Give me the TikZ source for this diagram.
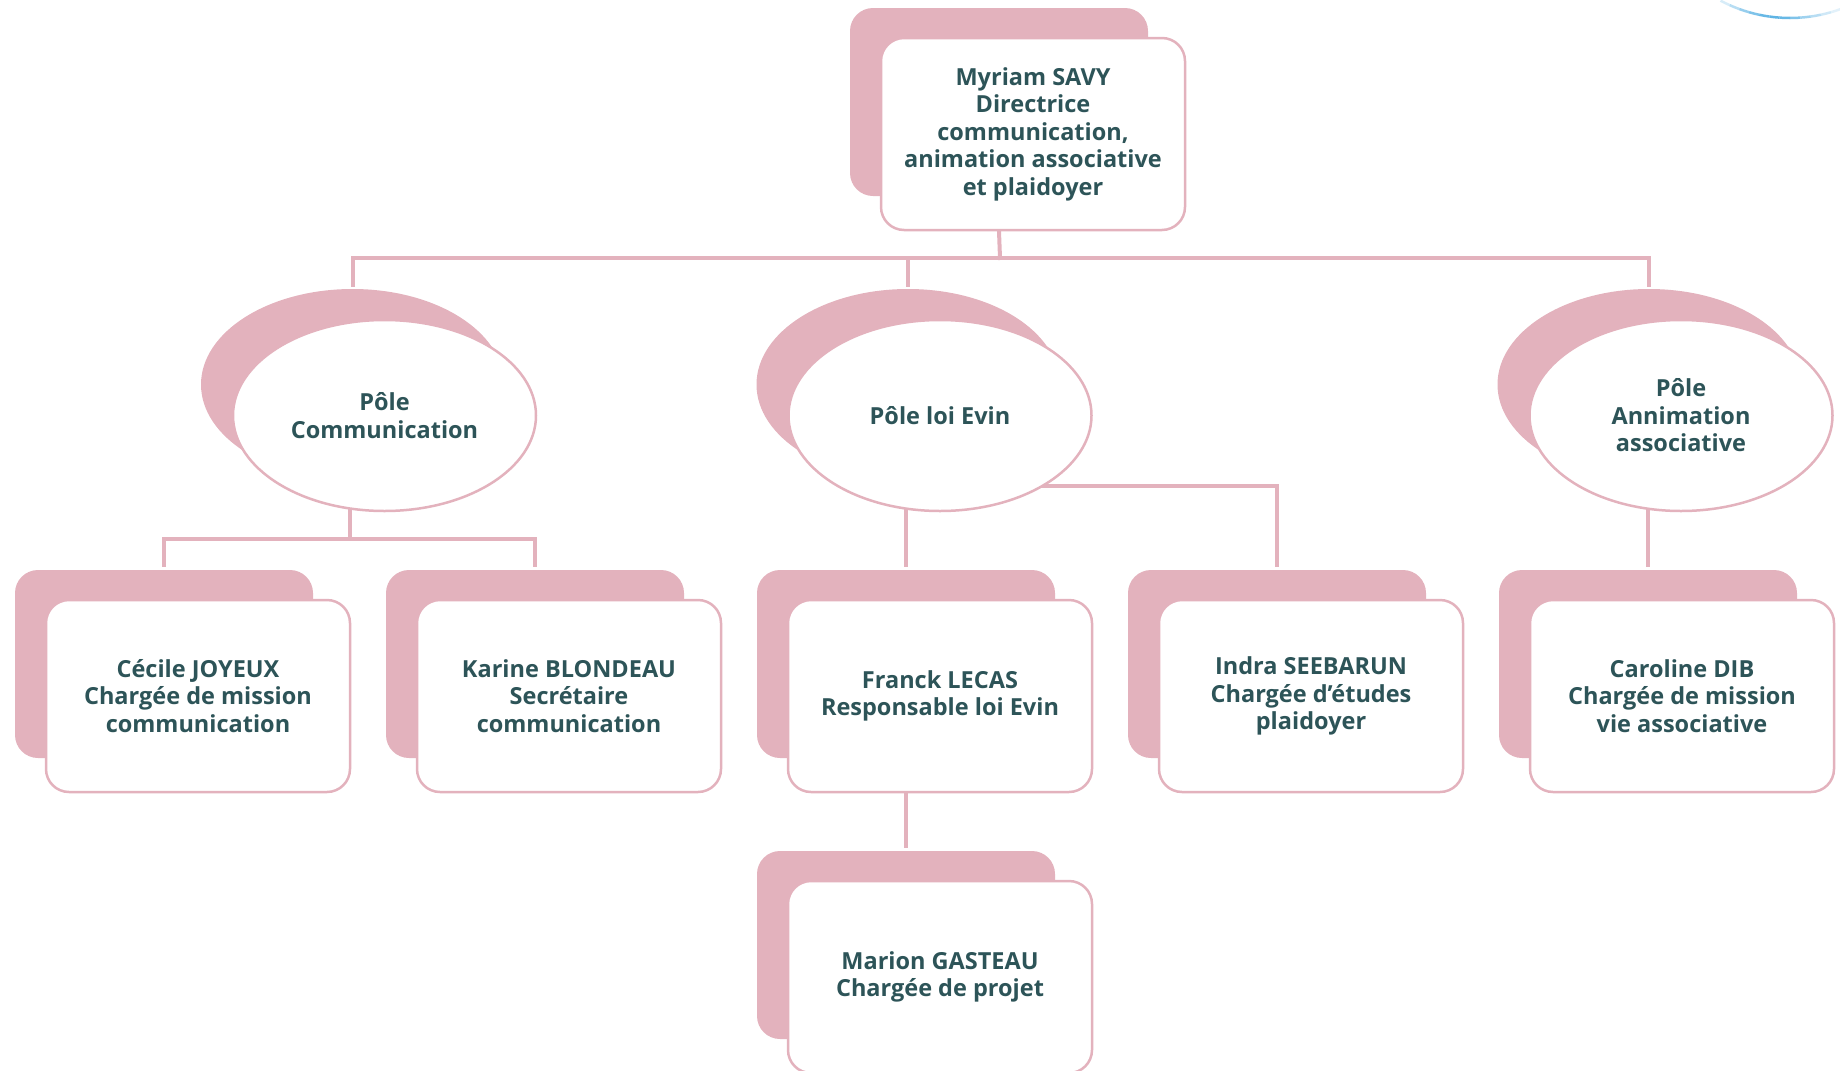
\documentclass[tikz,border=0pt]{standalone}
\usepackage{fontspec}
\setmainfont{Open Sans}
\usetikzlibrary{shapes.geometric,calc}
\pgfdeclarelayer{bg}
\pgfsetlayers{bg,main}
\definecolor{pinkfill}{RGB}{227,178,189}
\definecolor{tealtext}{RGB}{45,84,88}
\definecolor{arcblue}{RGB}{95,180,228}
\tikzset{
  backbox/.style={rectangle, rounded corners=23pt, fill=pinkfill, minimum width=298pt, minimum height=188pt, inner sep=0pt},
  frontbox/.style={rectangle, rounded corners=23pt, fill=white, draw=pinkfill, line width=2.5pt, minimum width=304pt, minimum height=192pt, inner sep=0pt, align=center, text=tealtext, font=\fontsize{23.5}{27.5}\selectfont\bfseries},
  backell/.style={ellipse, fill=pinkfill, minimum width=303pt, minimum height=191pt, inner sep=0pt},
  frontell/.style={ellipse, fill=white, draw=pinkfill, line width=2.5pt, minimum width=303pt, minimum height=191pt, inner sep=0pt, align=center, text=tealtext, font=\fontsize{23.5}{27.5}\selectfont\bfseries},
  conn/.style={draw=pinkfill, line width=4pt, line cap=rect},
}
\begin{document}
\begin{tikzpicture}[x=1pt,y=-1pt]
\useasboundingbox (0,0) rectangle (1840,1071);
% top
\node[backbox] (topb) at (999,102) {};
\node[frontbox] (top) at (1033,134) {Myriam SAVY\\Directrice\\communication,\\animation associative\\et plaidoyer};
% poles
\node[backell] (e1b) at (352.5,384.5) {};
\node[frontell] (e1) at (384.5,415.5) {Pôle\\Communication};
\node[backell] (e2b) at (908,384.5) {};
\node[frontell] (e2) at (940,415.5) {Pôle loi Evin};
\node[backell] (e3b) at (1649,384.5) {};
\node[frontell] (e3) at (1681,415.5) {Pôle\\Annimation\\associative};
% row boxes
\node[backbox] (c1b) at (164,664) {};
\node[frontbox] (c1) at (198,696) {Cécile JOYEUX\\Chargée de mission\\communication};
\node[backbox] (c2b) at (535,664) {};
\node[frontbox] (c2) at (569,696) {Karine BLONDEAU\\Secrétaire\\communication};
\node[backbox] (c3b) at (906,664) {};
\node[frontbox] (c3) at (940,696) {Franck LECAS\\Responsable loi Evin};
\node[backbox] (c4b) at (1277,664) {};
\node[frontbox] (c4) at (1311,696) {Indra SEEBARUN\\Chargée d'études\\plaidoyer};
\node[backbox] (c5b) at (1648,664) {};
\node[frontbox] (c5) at (1682,696) {Caroline DIB\\Chargée de mission\\vie associative};
\node[backbox] (mb) at (906,945) {};
\node[frontbox] (m) at (940,977) {Marion GASTEAU\\Chargée de projet};
% connectors
\begin{pgfonlayer}{bg}
\coordinate (bus) at (1000,258);
\draw[conn] (topb.center |- top.south) -- (bus);
\draw[conn] (e1b.center |- bus) -- (e3b.center |- bus);
\draw[conn] (e1b.center |- bus) -- ([yshift=4pt]e1b.north);
\draw[conn] (e2b.center |- bus) -- ([yshift=4pt]e2b.north);
\draw[conn] (e3b.center |- bus) -- ([yshift=4pt]e3b.north);
\coordinate (bus1) at (350,539);
\draw[conn] (e1.center -| bus1) -- (bus1);
\draw[conn] (c1b.center |- bus1) -- (c2b.center |- bus1);
\draw[conn] (c1b.center |- bus1) -- ([yshift=5pt]c1b.north);
\draw[conn] (c2b.center |- bus1) -- ([yshift=5pt]c2b.north);
\draw[conn] (e2.center -| c3b.center) -- ([yshift=5pt]c3b.north);
\draw[conn] (e2.center) -- ([yshift=-70pt]e2.center) -| ([yshift=5pt]c4b.north);
\draw[conn] (e3.center -| c5b.center) -- ([yshift=5pt]c5b.north);
\draw[conn] (c3.center -| c3b.center) -- ([yshift=5pt]mb.north);
\end{pgfonlayer}
% blue arc top right
\coordinate (arcc) at (1790,-130);
\foreach \a/\o in {118/0.25,114/0.45,110/0.65,106/0.8,102/0.95,98/1,94/0.95,90/0.8,86/0.6,82/0.45,78/0.3,74/0.18,70/0.08}{
  \draw[arcblue, line width=2.5pt, opacity=\o] ($(arcc)+(\a:148)$) arc[start angle=\a, end angle=\a-4, radius=148];
}
\end{tikzpicture}
\end{document}
